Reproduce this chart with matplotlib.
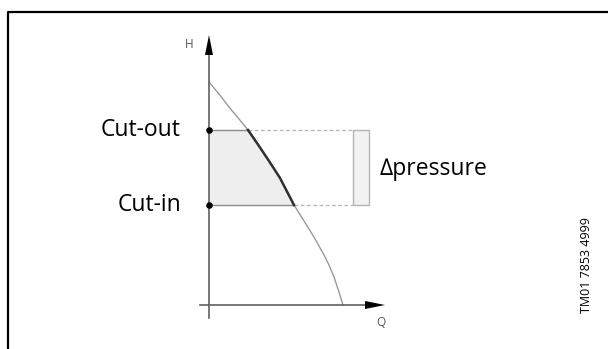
import numpy as np
import matplotlib
matplotlib.use("Agg")
import matplotlib.pyplot as plt
from matplotlib.lines import Line2D
from matplotlib.patches import Rectangle, Polygon

# pump curve (Q, H in arbitrary units)
q_curve = [0.0, 1.0, 2.0, 3.0, 3.9, 5.0, 6.0, 7.1, 8.5, 9.5, 10.5, 11.0, 11.5, 12.0, 12.5, 13.0, 13.4]
h_curve = [22.3, 21.1, 19.8, 18.6, 17.5, 15.9, 14.4, 12.7, 10.0, 8.4, 6.8, 5.9, 5.0, 4.0, 2.8, 1.3, 0.0]

h_cut_out = 17.5
h_cut_in = 10.0
q_cut_out = 3.9
q_cut_in = 8.5
box_q = [14.4, 16.0]

labels = ["Cut-out", "Cut-in"]
delta_label = "\u2206pressure"
doc_id = "TM01 7853 4999"

font = ["Open Sans", "DejaVu Sans"]

fig = plt.figure(figsize=(6.08, 3.49), dpi=100)
ax = fig.add_axes([0, 0, 1, 1])
ax.set_xlim(-20.9, 39.9)
ax.set_ylim(-4.4, 30.5)
ax.axis("off")

# outer frame (left and top only)
fig.add_artist(Line2D([8 / 608, 8 / 608, 1.0], [0.0, 1 - 12 / 349, 1 - 12 / 349],
                      transform=fig.transFigure, color="black", lw=1.6))

# shaded area between cut-in and cut-out up to the curve
q = np.array(q_curve)
h = np.array(h_curve)
mask = (h <= h_cut_out) & (h >= h_cut_in)
poly = [(0, h_cut_in), (0, h_cut_out)] + list(zip(q[mask], h[mask]))
ax.add_patch(Polygon(poly, closed=True, facecolor="#eeeeee", edgecolor="none", zorder=1))

# delta-pressure box
ax.add_patch(Rectangle((box_q[0], h_cut_in), box_q[1] - box_q[0], h_cut_out - h_cut_in,
                       facecolor="#f2f2f2", edgecolor="#b4b4b4", lw=1.0, zorder=2))

# level lines
for hl, ql in [(h_cut_out, q_cut_out), (h_cut_in, q_cut_in)]:
    ax.plot([0, ql], [hl, hl], color="#8c8c8c", lw=1.0, zorder=3)
    ax.plot([ql, box_q[0]], [hl, hl], color="#b4b4b4", lw=0.9, ls=(0, (3, 2)), zorder=3)

# pump curve
ax.plot(q, h, color="#9a9a9a", lw=1.0, zorder=4)
ax.plot(q[mask], h[mask], color="#303030", lw=1.8, zorder=5)

# axes with arrows
ax.plot([0, 0], [-1.3, 25.2], color="#606060", lw=1.2, zorder=4)
ax.plot([-0.9, 15.8], [0, 0], color="#606060", lw=1.2, zorder=4)
ax.add_patch(Polygon([(-0.4, 25.0), (0.4, 25.0), (0, 27.0)], closed=True,
                     facecolor="black", edgecolor="none", zorder=5))
ax.add_patch(Polygon([(15.6, -0.4), (15.6, 0.4), (17.6, 0)], closed=True,
                     facecolor="black", edgecolor="none", zorder=5))
ax.text(-2.0, 26.1, "H", ha="center", va="center", fontsize=8.5, color="#555555", family=font)
ax.text(17.2, -1.7, "Q", ha="center", va="center", fontsize=8.5, color="#555555", family=font)

# switch points
ax.scatter([0, 0], [h_cut_out, h_cut_in], s=14, color="black", zorder=6)

ax.text(-2.8, h_cut_out, labels[0], ha="right", va="center", fontsize=16.5, family=font)
ax.text(-2.8, h_cut_in, labels[1], ha="right", va="center", fontsize=16.5, family=font)
ax.text(17.1, 13.6, delta_label, ha="left", va="center", fontsize=16.5, family=font)
ax.text(37.8, 4.0, doc_id, ha="center", va="center", rotation=90, fontsize=9, family=font)

fig.savefig("out.png", dpi=100)
